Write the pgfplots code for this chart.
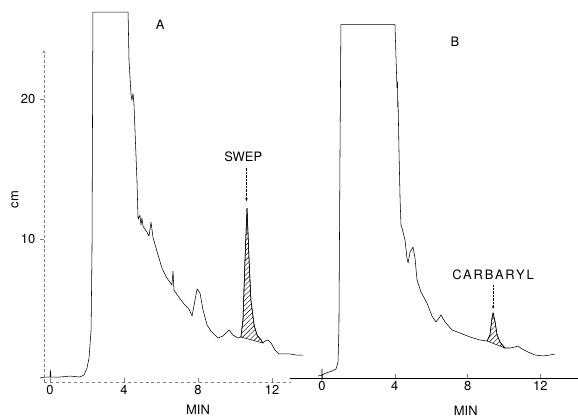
\documentclass[border=0pt]{standalone}
\usepackage{fontspec}
\setmainfont{TeX Gyre Heros}
\usepackage{pgfplots}
\usepackage{pgfplotstable}
\pgfplotsset{compat=1.18}
\usetikzlibrary{patterns.meta,arrows.meta}

% chromatogram A (SWEP), min vs cm
\pgfplotstableread{
x y
-0.54 0.07
-0.27 0.14
0.00 0.14
0.02 0.64
0.05 0.14
0.54 0.14
1.08 0.21
1.62 0.14
1.84 0.29
2.00 0.79
2.11 1.50
2.22 3.50
2.27 9.20
2.32 26.2
4.22 26.2
4.27 22.8
4.38 20.3
4.43 19.9
4.49 20.4
4.54 19.6
4.70 14.2
4.76 11.4
4.86 11.7
4.92 11.0
4.97 11.5
5.03 10.9
5.24 10.5
5.35 10.2
5.46 11.2
5.57 10.1
5.84 8.86
6.05 7.93
6.32 7.21
6.59 6.71
6.65 7.71
6.70 6.36
6.92 5.93
7.24 5.36
7.51 5.00
7.68 4.50
7.84 5.64
7.95 6.43
8.11 6.14
8.27 4.93
8.49 3.86
8.70 3.43
8.92 3.14
9.08 2.93
9.35 3.07
9.68 3.50
9.89 3.14
10.16 2.93
10.32 3.00
10.43 4.21
10.54 8.50
10.65 12.2
10.76 8.50
10.86 5.64
11.03 3.86
11.19 3.14
11.41 2.79
11.51 2.57
11.62 2.71
11.78 2.79
11.95 2.57
12.16 2.07
12.38 1.79
12.65 1.79
12.97 1.79
13.30 1.71
13.68 1.71
}\traceA

% chromatogram B (carbaryl)
\pgfplotstableread{
x y
-0.22 0.00
0.00 0.07
0.00 0.50
0.00 -0.30
0.00 0.07
0.22 0.21
0.55 0.36
0.77 0.50
0.88 1.00
0.93 3.30
0.99 16.1
1.04 25.1
4.01 25.1
4.07 22.6
4.12 20.6
4.15 21.0
4.16 19.2
4.18 19.6
4.23 16.1
4.29 12.6
4.34 10.8
4.45 10.3
4.56 9.71
4.67 8.43
4.73 8.07
4.84 8.86
5.00 9.21
5.11 8.43
5.22 6.86
5.44 6.00
5.77 5.21
6.04 4.29
6.26 3.86
6.43 4.14
6.54 4.36
6.76 3.86
7.14 3.29
7.58 3.07
8.13 2.79
8.68 2.57
9.07 2.50
9.23 2.93
9.34 4.14
9.40 4.50
9.51 3.86
9.62 2.93
9.78 2.43
10.05 2.00
10.33 2.00
10.60 2.07
10.77 2.14
10.99 1.93
11.32 1.71
11.70 1.50
12.14 1.43
12.53 1.50
12.80 1.57
}\traceB

\pgfplotsset{
  chrom/.style={
    scale only axis, clip=false,
    axis x line=bottom,
    axis line style={-, line width=0.5pt},
    xtick={0,4,8,12},
    xtick align=inside,
    major tick length=4bp,
    tick style={line width=0.4pt},
    tick label style={font=\fontsize{13}{15}\selectfont},
    /pgf/number format/assume math mode=true,
    xticklabel style={yshift=1bp},
  },
  trace/.style={black, line width=0.55pt, line join=round},
  hatch/.style={draw=black, line width=0.5pt,
    pattern={Lines[angle=45,distance=3.5pt,line width=0.4pt]}},
}

\begin{document}
\fontsize{13}{15}\selectfont
\begin{tikzpicture}
\useasboundingbox (0,0) rectangle (578bp,417bp);

\begin{axis}[chrom,
  at={(43.9bp,35bp)}, anchor=south west,
  width=246.6bp, height=332bp,
  xmin=-0.33, xmax=13, ymin=-0.214, ymax=23.5,
  axis y line=left,
  y axis line style={densely dashed, gray},
  x axis line style={dashed, gray},
  ytick={10,20},
  ytick align=outside,
]
\addplot[trace] table[x=x,y=y] {\traceA};
\addplot[hatch] coordinates {
  (10.32,3.00) (10.43,4.21) (10.54,8.50) (10.65,12.2) (10.76,8.50)
  (10.86,5.64) (11.03,3.86) (11.19,3.14) (11.41,2.79) (11.51,2.57)
} -- cycle;
\node at (axis cs:5.95,25.3) {A};
\node at (axis cs:10.45,15.9) {SWEP};
\draw[densely dotted, -{Stealth[length=3bp,width=2.5bp]}] (axis cs:10.62,15.1) -- (axis cs:10.62,12.7);
\node at (axis cs:8,-2.2) {MIN};
\node[rotate=90] at (axis cs:-1.89,12.8) {cm};
\end{axis}

\begin{axis}[chrom,
  at={(290bp,39bp)}, anchor=south west,
  width=288bp, height=359bp,
  xmin=-1.758, xmax=14.066, ymin=-0.143, ymax=25.5,
  axis y line=none,
]
\addplot[trace] table[x=x,y=y] {\traceB};
\addplot[hatch] coordinates {
  (9.07,2.50) (9.23,2.93) (9.34,4.14) (9.40,4.50) (9.51,3.86)
  (9.62,2.93) (9.78,2.43) (10.05,2.00)
} -- cycle;
\node at (axis cs:7.31,23.9) {B};
\node at (axis cs:9.40,7.2) {\addfontfeatures{LetterSpace=14}CARBARYL};
\draw[densely dotted, -{Stealth[length=3bp,width=2.5bp]}] (axis cs:9.40,6.5) -- (axis cs:9.40,4.8);
\node at (axis cs:7.9,-2.5) {MIN};
\end{axis}
\end{tikzpicture}
\end{document}
